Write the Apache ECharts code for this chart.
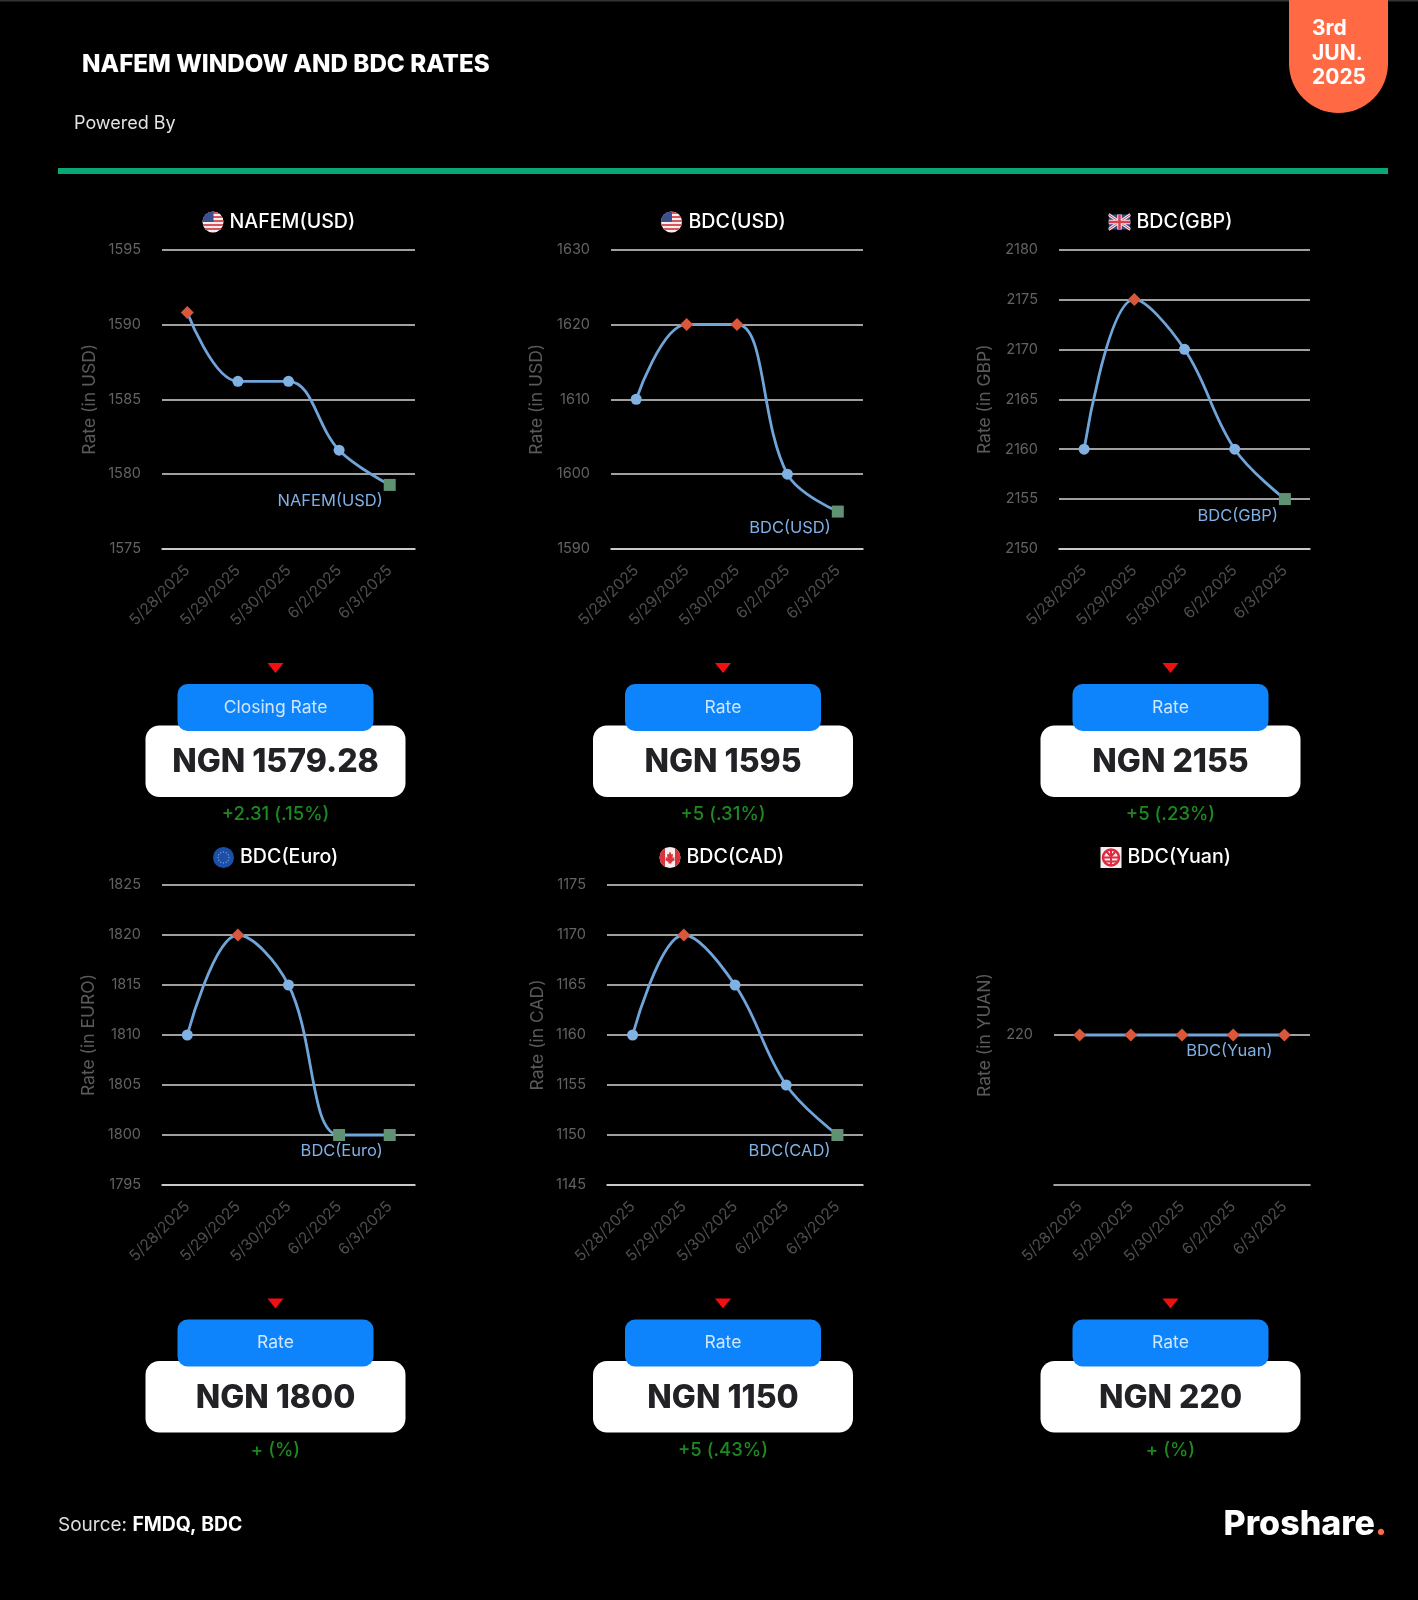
<!DOCTYPE html>
<html><head><meta charset="utf-8">
<style>html,body{margin:0;padding:0;background:#000}#c{width:1418px;height:1600px}</style>
<script src="https://cdn.jsdelivr.net/npm/echarts@6/dist/echarts.min.js"></script>
</head><body><div id="c"></div>
<script>
const dates = ['5/28/2025','5/29/2025','5/30/2025','6/2/2025','6/3/2025'];
const nafemUsd = [1590.8,1586.2,1586.2,1581.6,1579.28];
const bdcUsd = [1610,1620,1620,1600,1595];
const bdcGbp = [2160,2175,2170,2160,2155];
const bdcEuro = [1810,1820,1815,1800,1800];
const bdcCad = [1160,1170,1165,1155,1150];
const bdcYuan = [220,220,220,220,220];
const names = ['NAFEM(USD)','BDC(USD)','BDC(GBP)','BDC(Euro)','BDC(CAD)','BDC(Yuan)'];
const axisNames = ['Rate (in USD)','Rate (in USD)','Rate (in GBP)','Rate (in EURO)','Rate (in CAD)','Rate (in YUAN)'];
const cardHeads = ['Closing Rate','Rate','Rate','Rate','Rate','Rate'];
const cardValues = ['NGN 1579.28','NGN 1595','NGN 2155','NGN 1800','NGN 1150','NGN 220'];
const changes = ['+2.31 (.15%)','+5 (.31%)','+5 (.23%)','+ (%)','+5 (.43%)','+ (%)'];
const mins = [1575,1590,2150,1795,1145,0];
const maxs = [1595,1630,2180,1825,1175,440];
const steps = [5,10,5,5,5,220];
const allValues = [nafemUsd,bdcUsd,bdcGbp,bdcEuro,bdcCad,bdcYuan];

const FONT = 'Inter, "Open Sans", sans-serif';
const grids = [[162,415,249.5,549],[611,863,249.5,549],[1059,1310,249.5,549],[162,415,885,1185],[607,863,885,1185],[1054,1310,885,1185]];
const cardX = [275.5,723,1170.5,275.5,723,1170.5];
const titleX = [229.5,688.5,1136.5,240,686.5,1127.5];
const flagX = [213,671.5,1119.5,223.5,670,1111];
const nameX = [89,536,984,88,537,984];
const rowDy = [0,0,0,635.5,635.5,635.5];
const labelOffset = [-7,-7,-7,-7,-7,-12];

function uri(s){return 'data:image/svg+xml;charset=utf-8,'+encodeURIComponent('<svg xmlns="http://www.w3.org/2000/svg" width="88" height="88" viewBox="0 0 44 44">'+s+'</svg>');}
const usFlag = uri('<defs><clipPath id="a"><circle cx="22" cy="22" r="21"/></clipPath></defs><g clip-path="url(#a)"><rect width="44" height="44" fill="#f4f0f0"/>'+[2,10,18,26,34,42].map(y=>'<rect y="'+y+'" width="44" height="4" fill="#d8545e"/>').join('')+'<rect width="23" height="22" fill="#3a4f8c"/></g>');
const ukFlag = uri('<rect y="7" width="44" height="30" fill="#2c4a90"/><path d="M0 7L44 37M44 7L0 37" stroke="#f2e6e6" stroke-width="6"/><path d="M0 7L44 37M44 7L0 37" stroke="#d84050" stroke-width="2"/><path d="M22 7V37M0 22H44" stroke="#f2e6e6" stroke-width="9"/><path d="M22 7V37M0 22H44" stroke="#d84050" stroke-width="5"/>');
const euFlag = uri('<circle cx="22" cy="22" r="21" fill="#1b4fa8"/>'+Array.from('abcdefghijkl').map((c,i)=>'<circle cx="'+(22+11*Math.cos(i*Math.PI/6))+'" cy="'+(22+11*Math.sin(i*Math.PI/6))+'" r="1.3" fill="#7fa6d8"/>').join(''));
const caFlag = uri('<defs><clipPath id="b"><circle cx="22" cy="22" r="21"/></clipPath></defs><g clip-path="url(#b)"><rect width="44" height="44" fill="#f6eeee"/><rect width="12" height="44" fill="#d8343c"/><rect x="32" width="12" height="44" fill="#d8343c"/><path d="M22 10l3 6 3-1-1 8 4-2-1 4 2 2-7 4v3h-6v-3l-7-4 2-2-1-4 4 2-1-8 3 1z" fill="#d8343c"/></g>');
const cnFlag = uri('<rect x="1" y="1" width="42" height="42" fill="#f6eeee"/><circle cx="22" cy="22" r="16" fill="none" stroke="#e02a40" stroke-width="5"/><path d="M6 22H38M22 6V38M10 30H34" stroke="#e02a40" stroke-width="4"/><path d="M12 9L22 20L32 9" stroke="#e02a40" stroke-width="4" fill="none"/>');
const flags = [usFlag,usFlag,ukFlag,euFlag,caFlag,cnFlag];

const grid=[],xAxis=[],yAxis=[],series=[],title=[];
title.push({text:'NAFEM WINDOW AND BDC RATES',left:82,top:53,padding:0,textStyle:{color:'#fff',fontFamily:FONT,fontWeight:800,fontSize:24.2}});
const gfx=[];
function txt(x,y,text,size,color,weight,align){
  gfx.push({type:'text',x,y,z:20,style:{text,font:(weight||400)+' '+size+'px '+FONT,fill:color,textAlign:align||'center',textVerticalAlign:'middle'}});
}
function rrect(x0,y0,x1,y1,r,fill,z){gfx.push({type:'rect',z,shape:{x:x0,y:y0,width:x1-x0,height:y1-y0,r},style:{fill}});}

rrect(0,0,1418,1.5,0,'#333',1);
gfx.push({type:'rect',z:2,shape:{x:1289,y:-60,width:99,height:173,r:49.5},style:{fill:'#ff6a45'}});
txt(1312,29,'3rd',21,'#fff',700,'left');
txt(1312,54,'JUN.',21,'#fff',700,'left');
txt(1312,78,'2025',21,'#fff',700,'left');
txt(74,124,'Powered By',18,'#e4e4e4',400,'left');
rrect(58,168,1388,174,0,'#0aa678',2);
gfx.push({type:'text',x:58,y:1525,z:20,style:{text:'{a|Source: }{b|FMDQ, BDC}',textVerticalAlign:'middle',rich:{a:{fontSize:19,fontFamily:FONT,fill:'#ddd'},b:{fontSize:19.4,fontFamily:FONT,fontWeight:700,fill:'#fff'}}}});
gfx.push({type:'text',x:1387,y:1525,z:20,style:{text:'{a|Proshare}{b|.}',textAlign:'right',textVerticalAlign:'middle',rich:{a:{fontSize:34,fontFamily:FONT,fontWeight:800,fill:'#fff'},b:{fontSize:34,fontFamily:FONT,fontWeight:800,fill:'#ff6a45'}}}});

allValues.forEach((vals,i)=>{
  const g=grids[i], dy=rowDy[i], cx=cardX[i];
  const isYuan=i===5;
  title.push({text:names[i],left:titleX[i],top:212+dy,padding:0,textStyle:{color:'#fff',fontFamily:FONT,fontWeight:500,fontSize:19.6}});
  gfx.push({type:'image',z:20,style:{image:flags[i],x:flagX[i]-11,y:222+dy-11,width:22,height:22}});
  grid.push({left:g[0],width:g[1]-g[0],top:g[2],height:g[3]-g[2]});
  xAxis.push({type:'category',gridIndex:i,data:dates,boundaryGap:true,
    axisLine:{show:true,lineStyle:{color:'#d6d6d6',width:1.6}},axisTick:{show:false},splitLine:{show:false},
    axisLabel:{rotate:45,color:'#4f4f4f',fontFamily:FONT,fontSize:15.5,margin:19,interval:0}});
  const y={type:'value',gridIndex:i,min:mins[i],max:maxs[i],interval:steps[i],
    name:axisNames[i],nameLocation:'middle',nameRotate:90,nameGap:g[0]-nameX[i]-10,
    nameTextStyle:{color:'#5a5a5a',fontFamily:FONT,fontSize:17.5},
    axisLine:{show:false},axisTick:{show:false},splitLine:{show:true,lineStyle:{color:'#d6d6d6',width:1.6}},
    axisLabel:{color:'#626262',fontFamily:FONT,fontSize:14.5,margin:21,padding:[0,0,2,0],formatter:v=>String(v)}};
  if(isYuan){y.axisLabel.customValues=[220];y.axisTick.customValues=[220];}
  yAxis.push(y);
  const hi=Math.max(...vals), lo=Math.min(...vals);
  const data=vals.map((v,k)=>{
    const isHi=v===hi, isLo=v===lo&&!isHi;
    const d={value:v,symbol:isHi?'diamond':isLo?'rect':'circle',symbolSize:isHi?13:isLo?12:11,
      itemStyle:{color:isHi?'#d9573b':isLo?'#5f9272':'#7fb2e3'}};
    if(k===vals.length-1){d.label={show:true,formatter:names[i],position:'bottom',align:'right',offset:[labelOffset[i],isYuan?-4:-3],color:'#7fb0e6',fontFamily:FONT,fontSize:16.5};}
    return d;
  });
  series.push({type:'line',name:names[i],xAxisIndex:i,yAxisIndex:i,data,smooth:0.38,
    lineStyle:{color:'#6fa5d8',width:2.8},showSymbol:true,symbol:'circle',animation:false,z:5});

  gfx.push({type:'polygon',z:6,shape:{points:[[cx-8,663+dy],[cx+8,663+dy],[cx,673+dy]]},style:{fill:'#f01010'}});
  rrect(cx-130,725.5+dy,cx+130,797+dy,14,'#fff',7);
  rrect(cx-98,684+dy,cx+98,731+dy,10,'#0d84fb',8);
  txt(cx,707.5+dy,cardHeads[i],17.5,'#cfe6ff',400);
  txt(cx,762.5+dy,cardValues[i],32,'#222226',800);
  txt(cx,814.5+dy,changes[i],18.5,'#1c8a20',500);
});

const chart=echarts.init(document.getElementById('c'),null,{renderer:'canvas',width:1418,height:1600});
chart.setOption({backgroundColor:'#000',animation:false,title,grid,xAxis,yAxis,series,graphic:{elements:gfx}});
</script></body></html>
